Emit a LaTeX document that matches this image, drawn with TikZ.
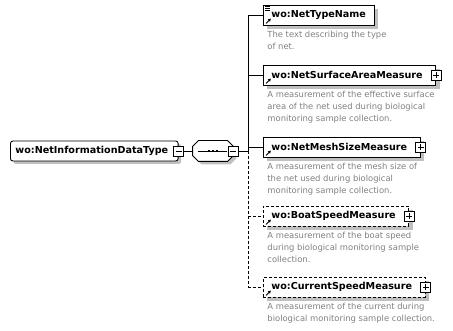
\documentclass[tikz,border=0pt]{standalone}
\usepackage{fontspec}
\setmainfont{DejaVu Sans}
\usetikzlibrary{shadows,arrows.meta}
\definecolor{docgray}{RGB}{128,128,128}
\definecolor{shadowgray}{RGB}{192,192,192}
\newcommand{\elemfont}{\fontsize{9.6}{11}\selectfont\bfseries}
\newcommand{\docfont}{\fontsize{8.4}{12}\selectfont}
\tikzset{
  boxshadow/.style={drop shadow={shadow xshift=#1, shadow yshift=-#1, fill=shadowgray, opacity=1}},
  typebox/.style={draw, fill=white, anchor=west, rounded corners=2.5pt,
    minimum height=20pt, inner xsep=5pt, inner ysep=0pt, font=\elemfont, boxshadow=3pt},
  seqbox/.style={minimum width=40pt, minimum height=20pt, inner sep=0pt},
  elem/.style={draw, fill=white, anchor=west, minimum height=20pt, inner xsep=8pt, inner ysep=0pt,
    font=\elemfont, boxshadow=4pt},
  optelem/.style={elem, dash pattern=on 3pt off 2pt},
  optline/.style={dash pattern=on 3pt off 2pt},
  more/.style={execute at end node={\hspace{5pt}}},
  doc/.style={anchor=north west, inner sep=0pt, align=left, text=docgray, font=\docfont},
  minusbox/.style={draw, fill=white, solid, minimum size=10pt, inner sep=0pt, path picture={
    \draw ([xshift=2pt]path picture bounding box.west) -- ([xshift=-2pt]path picture bounding box.east);}},
  plusbox/.style={minusbox, path picture={
    \draw ([xshift=2pt]path picture bounding box.west) -- ([xshift=-2pt]path picture bounding box.east);
    \draw ([yshift=-2pt]path picture bounding box.north) -- ([yshift=2pt]path picture bounding box.south);}},
  refarrow/.style={-{Latex[length=3pt,width=3.5pt]}, line width=0.8pt}
}
\begin{document}
\begin{tikzpicture}[x=1pt, y=-1pt, line width=0.9pt]
\useasboundingbox (0,0) rectangle (453,331);

% complex type
\node[typebox,more] (nidt) at (10,151) {wo:NetInformationDataType};
\node[minusbox] (nidt-m) at (nidt.east) {};

% sequence compositor (octagon)
\node[seqbox] (seq) at (213,151) {};
\path[draw, fill=white, boxshadow=3pt]
  ([xshift=6pt]seq.north west) -- ([xshift=-6pt]seq.north east)
  -- ([yshift=-6pt]seq.north east) -- ([yshift=6pt]seq.south east)
  -- ([xshift=-6pt]seq.south east) -- ([xshift=6pt]seq.south west)
  -- ([yshift=6pt]seq.south west) -- ([yshift=-6pt]seq.north west) -- cycle;
\node[minusbox] (seq-m) at (seq.east) {};
\draw (nidt-m.east) -- (seq.west);
\draw ([xshift=5pt]seq.west) -- ([xshift=-6pt]seq.east);
\foreach \dx in {-4,0,4}
  \fill ([xshift=\dx pt]seq.center) ++(-1.3,-1.3) rectangle ++(2.6,2.6);

% child elements
\coordinate (bus) at (248,151);
\node[elem] (ntn) at (263,15) {wo:NetTypeName};
\node[elem,more] (nsam) at (263,75) {wo:NetSurfaceAreaMeasure};
\node[elem,more] (nmsm) at (263,147) {wo:NetMeshSizeMeasure};
\node[optelem,more] (bsm) at (263,216) {wo:BoatSpeedMeasure};
\node[optelem,more] (csm) at (263,287) {wo:CurrentSpeedMeasure};
\foreach \n in {nsam,nmsm,bsm,csm}
  \node[plusbox] (\n-p) at (\n.east) {};

% text content mark and reference arrows
\foreach \k in {0,2,4}
  \draw[line width=0.7pt] ([shift={(2,2+\k)}]ntn.north west) -- +(5,0);
\foreach \n in {ntn,nsam,nmsm,bsm,csm}
  \draw[refarrow] ([shift={(3,-2)}]\n.south west) -- +(5,-5);

% connectors
\draw (seq-m.east) -- (bus);
\draw (ntn.west -| bus) -- (bus);
\draw[optline] (bus) -- (csm.west -| bus);
\foreach \n in {ntn,nsam,nmsm}
  \draw (\n.west -| bus) -- (\n.west);
\foreach \n in {bsm,csm}
  \draw[optline] (\n.west -| bus) -- (\n.west);

% annotations
\node[doc] (ntn-doc) at ([shift={(4,5)}]ntn.south west) {The text describing the type\\of net.};
\node[doc] (nsam-doc) at ([shift={(4,5)}]nsam.south west) {A measurement of the effective surface\\area of the net used during biological\\monitoring sample collection.};
\node[doc] (nmsm-doc) at ([shift={(4,5)}]nmsm.south west) {A measurement of the mesh size of\\the net used during biological\\monitoring sample collection.};
\node[doc] (bsm-doc) at ([shift={(4,5)}]bsm.south west) {A measurement of the boat speed\\during biological monitoring sample\\collection.};
\node[doc] (csm-doc) at ([shift={(4,5)}]csm.south west) {A measurement of the current during\\biological monitoring sample collection.};
\end{tikzpicture}
\end{document}
